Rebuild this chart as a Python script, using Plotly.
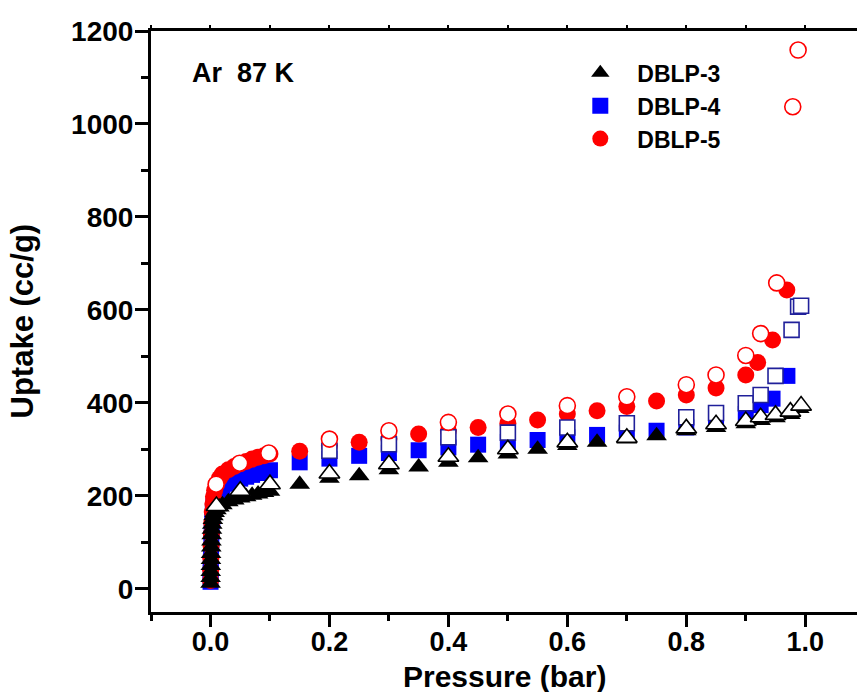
import plotly.graph_objects as go

# ---------------- data ----------------
# DBLP-3 adsorption (filled) / desorption (open)
p3_ads = [0.0001,0.0002,0.0004,0.0006,0.0008,0.001,0.0013,0.0016,0.002,0.0025,0.003,0.004,0.005,0.007,
          0.01,0.015,0.02,0.03,0.04,0.05,0.06,0.07,0.08,0.09,0.1,0.15,0.2,0.25,0.3,0.35,0.4,0.45,0.5,
          0.55,0.6,0.65,0.7,0.75,0.8,0.85,0.9,0.925,0.95,0.975,0.99]
u3_ads = [12,24,37,50,63,76,90,103,116,128,139,149,157,164,
          170,176,181,187,191,195,198,201,204,207,210,225,238,243,256,262,272,282,290,
          300,308,315,322,329,340,347,355,362,368,375,388]
p3_des = [0.01,0.05,0.1,0.2,0.3,0.4,0.5,0.6,0.7,0.8,0.85,0.9,0.925,0.95,0.975,0.993]
u3_des = [178,211,225,248,268,284,300,315,325,345,354,361,369,374,381,394]

# DBLP-4
p4_ads = [0.0001,0.0003,0.0006,0.001,0.0015,0.002,0.003,0.004,0.005,0.007,0.01,0.015,0.02,0.03,0.04,
          0.05,0.06,0.07,0.08,0.09,0.1,0.15,0.2,0.25,0.3,0.35,0.4,0.45,0.5,0.55,0.6,0.65,0.7,0.75,
          0.8,0.85,0.9,0.925,0.945,0.97]
u4_ads = [15,35,58,82,105,125,148,165,178,190,200,210,217,226,232,
          237,241,245,249,252,255,272,280,286,292,298,304,310,316,320,326,331,336,340,
          347,358,376,395,409,458]
p4_des = [0.2,0.3,0.4,0.5,0.6,0.7,0.8,0.85,0.9,0.925,0.95,0.977,0.988,0.993]
u4_des = [297,311,326,336,347,356,369,378,399,417,458,557,607,609]

# DBLP-5
p5_ads = [0.0001,0.0003,0.0006,0.001,0.0015,0.002,0.003,0.004,0.005,0.007,0.01,0.015,0.02,0.03,0.04,
          0.05,0.06,0.07,0.08,0.09,0.1,0.15,0.2,0.25,0.3,0.35,0.4,0.45,0.5,0.55,0.6,0.65,0.7,0.75,
          0.8,0.85,0.9,0.92,0.945,0.969]
u5_ads = [18,40,65,92,118,142,165,183,198,212,225,238,247,256,263,
          269,274,279,283,286,290,296,308,315,323,333,340,347,356,363,376,383,392,404,
          417,432,460,487,535,643]
p5_des = [0.0095,0.049,0.098,0.2,0.3,0.4,0.5,0.6,0.7,0.8,0.85,0.9,0.925,0.952,0.979,0.988]
u5_des = [225,270,292,322,340,358,376,394,413,439,460,502,549,658,1037,1159]

x_tickvals = [0.0, 0.2, 0.4, 0.6, 0.8, 1.0]
x_ticktext = ["0.0", "0.2", "0.4", "0.6", "0.8", "1.0"]
y_tickvals = [0, 200, 400, 600, 800, 1000, 1200]
y_ticktext = ["0", "200", "400", "600", "800", "1000", "1200"]

FONT = "Liberation Sans, Arial, sans-serif"

fig = go.Figure()

# filled (adsorption) - draw order: blue, red, black
fig.add_trace(go.Scatter(x=p4_ads, y=u4_ads, mode="markers", name="DBLP-4", legendrank=2,
                         marker=dict(symbol="square", size=16, color="#0000FF", line=dict(width=0))))
fig.add_trace(go.Scatter(x=p5_ads, y=u5_ads, mode="markers", name="DBLP-5", legendrank=3,
                         marker=dict(symbol="circle", size=17, color="#FF0000", line=dict(width=0))))
fig.add_trace(go.Scatter(x=p3_ads, y=u3_ads, mode="markers", name="DBLP-3", legendrank=1,
                         marker=dict(symbol="triangle-up", size=18, color="#000000", line=dict(width=0))))
# open (desorption)
fig.add_trace(go.Scatter(x=p4_des, y=u4_des, mode="markers", showlegend=False,
                         marker=dict(symbol="square", size=15, color="#FFFFFF",
                                     line=dict(width=1.6, color="#20209a"))))
fig.add_trace(go.Scatter(x=p5_des, y=u5_des, mode="markers", showlegend=False,
                         marker=dict(symbol="circle", size=16, color="#FFFFFF",
                                     line=dict(width=1.6, color="#FF0000"))))
fig.add_trace(go.Scatter(x=p3_des, y=u3_des, mode="markers", showlegend=False,
                         marker=dict(symbol="triangle-up", size=18, color="#FFFFFF",
                                     line=dict(width=1.6, color="#000000"))))
# invisible carrier trace so the top (mirror) axis with its own short ticks is drawn
fig.add_trace(go.Scatter(x=p3_des, y=u3_des, xaxis="x2", mode="markers", showlegend=False,
                         hoverinfo="skip", marker=dict(size=1, opacity=0)))

fig.update_layout(
    width=857, height=692,
    margin=dict(l=151, r=0, t=31, b=80),
    paper_bgcolor="white", plot_bgcolor="white",
    font=dict(family=FONT, size=28, color="black", weight="bold"),
    showlegend=True,
    legend=dict(x=0.584, y=0.965, xanchor="left", yanchor="top",
                bgcolor="rgba(0,0,0,0)", borderwidth=0, itemwidth=64,
                font=dict(family=FONT, size=23, color="black", weight="bold")),
    xaxis=dict(range=[-0.1, 1.087], showgrid=False, zeroline=False,
               showline=True, linewidth=3, linecolor="black",
               ticks="outside", ticklen=12, tickwidth=2.5, tickcolor="black",
               tickvals=x_tickvals, ticktext=x_ticktext,
               tickfont=dict(family=FONT, size=27, weight="bold"),
               ticklabelstandoff=-8,
               minor=dict(dtick=0.1, tick0=0, ticks="outside", ticklen=6, tickwidth=2.5, tickcolor="black"),
               mirror=False),
    xaxis2=dict(overlaying="x", side="top", matches="x", range=[-0.1, 1.087],
                showgrid=False, zeroline=False, showline=True, linewidth=3, linecolor="black",
                ticks="outside", ticklen=3, tickwidth=2, tickcolor="black",
                tick0=0, dtick=0.1, showticklabels=False),
    yaxis=dict(range=[-50, 1200], showgrid=False, zeroline=False,
               showline=True, linewidth=3, linecolor="black",
               ticks="outside", ticklen=13, tickwidth=2.5, tickcolor="black",
               tickvals=y_tickvals, ticktext=y_ticktext,
               tickfont=dict(family=FONT, size=28, weight="bold"),
               ticklabelstandoff=-4,
               minor=dict(dtick=100, tick0=0, ticks="outside", ticklen=7, tickwidth=2.5, tickcolor="black"),
               mirror=False),
    annotations=[
        dict(text="Ar\u00a0 87 K", x=0.055, y=0.928, xref="paper", yref="paper",
             xanchor="left", yanchor="middle", showarrow=False,
             font=dict(family=FONT, size=27, weight="bold", color="black")),
        dict(text="Uptake (cc/g)", x=0, y=0.5, xref="paper", yref="paper",
             xanchor="center", yanchor="middle", xshift=-129, textangle=-90, showarrow=False,
             font=dict(family=FONT, size=31, weight="bold", color="black")),
        dict(text="Pressure (bar)", x=0.5, y=0, xref="paper", yref="paper",
             xanchor="center", yanchor="middle", yshift=-64, showarrow=False,
             font=dict(family=FONT, size=30, weight="bold", color="black")),
    ],
)

fig.write_html("out.html")
